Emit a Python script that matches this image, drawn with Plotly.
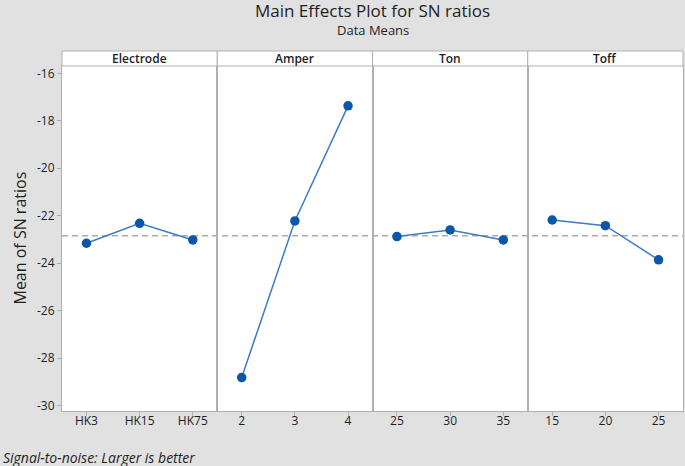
import plotly.graph_objects as go
from plotly.subplots import make_subplots

factors = ["Electrode", "Amper", "Ton", "Toff"]
electrode_levels = ["HK3", "HK15", "HK75"]
electrode_sn = [-23.16, -22.32, -23.02]
amper_levels = ["2", "3", "4"]
amper_sn = [-28.82, -22.22, -17.37]
ton_levels = ["25", "30", "35"]
ton_sn = [-22.88, -22.60, -23.02]
toff_levels = ["15", "20", "25"]
toff_sn = [-22.18, -22.42, -23.86]
grand_mean = -22.84
y_ticks = [-30, -28, -26, -24, -22, -20, -18, -16]
y_tick_labels = ["-30", "-28", "-26", "-24", "-22", "-20", "-18", "-16"]

levels = [electrode_levels, amper_levels, ton_levels, toff_levels]
values = [electrode_sn, amper_sn, ton_sn, toff_sn]

FONT = "Open Sans"
GRID = "#b0b0b0"
BG = "#e1e1e1"
TXT = "#1e1e1e"

fig = make_subplots(rows=1, cols=4, shared_yaxes=True, horizontal_spacing=0)

for i, (lv, vals) in enumerate(zip(levels, values)):
    fig.add_trace(go.Scatter(
        x=lv, y=vals, mode="lines+markers",
        line=dict(color="#3b7cc4", width=1.5),
        marker=dict(color="#0a57a9", size=9.5),
        showlegend=False, hoverinfo="x+y"), row=1, col=i + 1)
    fig.update_xaxes(type="category", range=[-0.46, 2.46],
                     showgrid=False, zeroline=False,
                     showline=True, linecolor=GRID, linewidth=1, mirror=True,
                     ticks="outside", ticklen=4, tickcolor=GRID,
                     ticklabelstandoff=-5,
                     tickfont=dict(family=FONT, size=12, color=TXT, weight=500),
                     row=1, col=i + 1)

fig.update_yaxes(range=[-30.23, -15.69], tickvals=y_ticks, ticktext=y_tick_labels,
                 showgrid=False, zeroline=False,
                 showline=True, linecolor=GRID, linewidth=1, mirror=True,
                 ticks="outside", ticklen=4, tickcolor=GRID,
                 tickfont=dict(family=FONT, size=12, color=TXT, weight=500))
for c in (2, 3, 4):
    fig.update_yaxes(ticks="", row=1, col=c)

# grand mean reference line
fig.add_shape(type="line", xref="paper", yref="y", x0=0, x1=1,
              y0=grand_mean, y1=grand_mean,
              line=dict(color="#ababab", width=1.5, dash="6px,4px"), layer="below")

# strip headers
strip_h = 15 / 345
for i, name in enumerate(factors):
    x0 = i / 4
    x1 = (i + 1) / 4
    fig.add_shape(type="rect", xref="paper", yref="paper",
                  x0=x0, x1=x1, y0=1, y1=1 + strip_h,
                  fillcolor="white", line=dict(color=GRID, width=1))
    fig.add_annotation(xref="paper", yref="paper", x=(x0 + x1) / 2, y=1 + strip_h / 2,
                       text=name, showarrow=False, xanchor="center", yanchor="middle",
                       font=dict(family=FONT, size=12, color=TXT, weight=600))

fig.add_annotation(xref="paper", yref="paper", x=0.5, y=1 + 55 / 345,
                   text="Main Effects Plot for SN ratios", showarrow=False,
                   xanchor="center", yanchor="middle",
                   font=dict(family=FONT, size=17, color=TXT))
fig.add_annotation(xref="paper", yref="paper", x=0.5, y=1 + 36 / 345,
                   text="Data Means", showarrow=False,
                   xanchor="center", yanchor="middle",
                   font=dict(family=FONT, size=13, color=TXT))
fig.add_annotation(xref="paper", yref="paper", x=-43 / 621, y=0.5,
                   text="Mean of SN ratios", showarrow=False, textangle=-90,
                   xanchor="center", yanchor="middle",
                   font=dict(family=FONT, size=16, color=TXT))
fig.add_annotation(xref="paper", yref="paper", x=-61 / 621, y=-46 / 345,
                   text="<i>Signal-to-noise: Larger is better</i>", showarrow=False,
                   xanchor="left", yanchor="middle",
                   font=dict(family=FONT, size=14, color=TXT))

fig.update_layout(width=685, height=466,
                  margin=dict(l=62, r=2, t=66, b=55),
                  paper_bgcolor=BG, plot_bgcolor="white")

fig.write_html("out.html", config={"displayModeBar": False},
               post_script="document.body.style.margin='0';document.body.style.padding='0';")
